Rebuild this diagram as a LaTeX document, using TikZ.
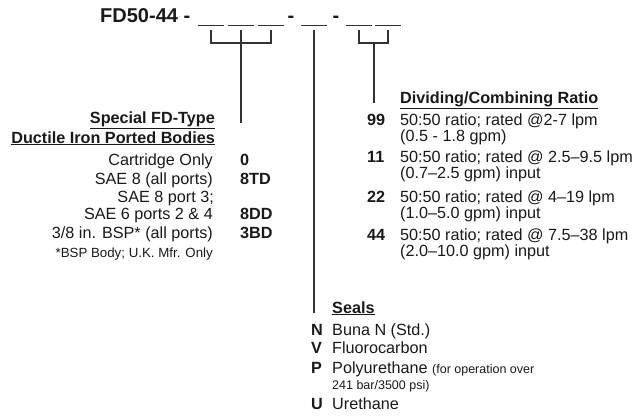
\documentclass[tikz,border=0pt]{standalone}
\usepackage{fontspec}
\setmainfont{Liberation Sans}
\usepackage{tikz}
\usetikzlibrary{positioning}
\tikzset{
  raya/.style={draw=black!80,line width=1.1pt},
  blanco/.style={inner sep=0pt,minimum width=25pt,minimum height=0pt},
  txt/.style={inner sep=0pt,font=\fontsize{16.2}{18}\selectfont,text=black!90},
  cod/.style={txt,font=\fontsize{16.2}{18}\selectfont\bfseries},
  peq/.style={inner sep=0pt,font=\fontsize{12.5}{14}\selectfont,text=black!90}
}
\newcommand{\chico}{\fontsize{12.5}{14}\selectfont}

\begin{document}
\begin{tikzpicture}[x=1pt,y=-1pt]
\useasboundingbox (0,0) rectangle (636,417);
% model code
\node[cod,font=\fontsize{20}{24}\selectfont\bfseries,anchor=base west] (modelo) at (100,23) {FD50-44 -};
\foreach \n/\x in {1/211,2/241,3/271,4/314,5/359,6/388}{
  \node[blanco] (b\n) at (\x,25) {};
  \draw[raya,line width=0.9pt] (b\n.west)--(b\n.east);
}
\node[cod,font=\fontsize{20}{24}\selectfont\bfseries,anchor=base] (g1) at (291,23) {-};
\node[cod,font=\fontsize{20}{24}\selectfont\bfseries,anchor=base] (g2) at (336,23) {-};
% brackets
\coordinate (r1) at (241,43); \coordinate (r2) at (374,43);
\draw[raya] ([yshift=-5pt]b1.south) |- (r1) -| ([yshift=-5pt]b3.south);
\draw[raya] ([yshift=-5pt]b5.south) |- (r2) -| ([yshift=-5pt]b6.south);
% bodies
\node[cod,anchor=base east] (tit1) at (215,123) {\underline{Special FD-Type}};
\node[cod,anchor=base east] (tit2) at (215,143) {\underline{Ductile Iron Ported Bodies}};
\foreach \y/\t/\c in {165/Cartridge Only/0,184/SAE 8 (all ports)/8TD,219/SAE 6 ports 2 \& 4/8DD}{
  \node[txt,anchor=base east] (t\y) at (213,\y) {\t};
  \node[cod,anchor=base west] (c\y) at (240,\y) {\c};
}
\node[txt,anchor=base east] (t202) at (214,202) {SAE 8 port 3;};
\node[txt,anchor=base east] (t238) at (213,238) {3/8 in. BSP* (all ports)};
\node[cod,anchor=base west] (c238) at (240,238) {3BD};
\node[peq,font=\fontsize{13.3}{14}\selectfont,anchor=base east] (nota) at (213,257) {*BSP Body; U.K. Mfr. Only};
\draw[raya] ([yshift=-5pt]b2.south) -- (b2 |- tit1.base);
% ratio
\node[cod,anchor=base west] (ratio) at (400,103) {\underline{Dividing/Combining Ratio}};
\draw[raya] (r2) -- (r2 |- ratio.base);
\foreach \c/\y/\a/\b in {99/125/{50:50 ratio; rated @2-7 lpm}/{(0.5 - 1.8 gpm)},
  11/162/{50:50 ratio; rated @ 2.5–9.5 lpm}/{(0.7–2.5 gpm) input},
  22/202/{50:50 ratio; rated @ 4–19 lpm}/{(1.0–5.0 gpm) input},
  44/240/{50:50 ratio; rated @ 7.5–38 lpm}/{(2.0–10.0 gpm) input}}{
  \node[cod,anchor=base west] (k\c) at (367,\y) {\c};
  \node[txt,anchor=base west] (a\c) at (400,\y) {\a};
  \node[txt,anchor=base west] (z\c) at (400,\y+16) {\b};
}
% seals
\node[cod,anchor=base west] (sellos) at (332,313) {\underline{Seals}};
\draw[raya] ([yshift=-5pt]b4.south) -- (b4 |- sellos.base);
\foreach \c/\y/\t in {N/335/Buna N (Std.),V/353/Fluorocarbon,P/373/{Polyurethane {\chico(for operation over}},U/409/Urethane}{
  \node[cod,anchor=base west] (s\c) at (311,\y) {\c};
  \node[txt,anchor=base west] (e\c) at (332,\y) {\t};
}
\node[peq,anchor=base west] (psi) at (332,389) {241 bar/3500 psi)};
\end{tikzpicture}
\end{document}
